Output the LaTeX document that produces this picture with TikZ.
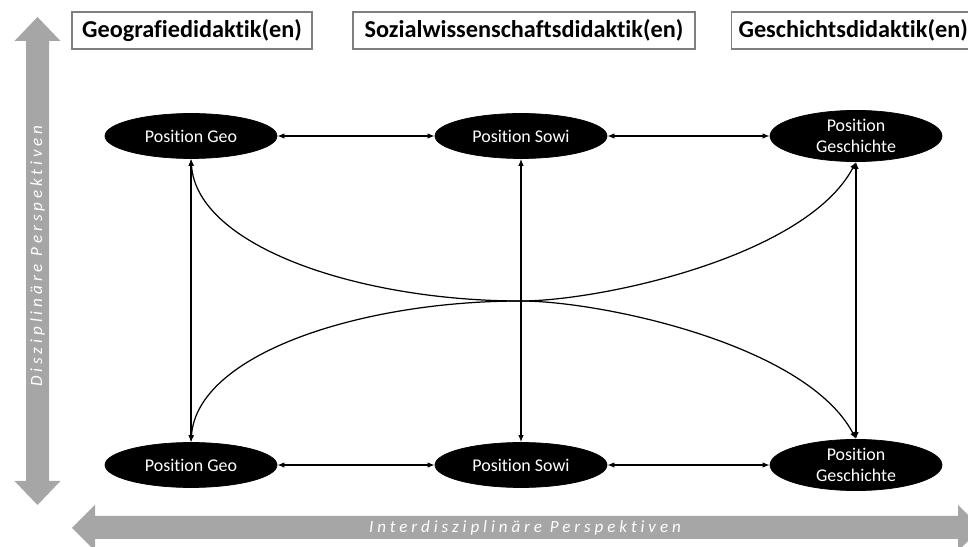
\documentclass[tikz,border=0pt]{standalone}
\usepackage{fontspec}
\setmainfont{Carlito}[Ligatures=NoCommon]
\usetikzlibrary{shapes.geometric, arrows.meta, positioning}
\definecolor{PerspGray}{HTML}{A6A6A6}
\definecolor{FrameGray}{HTML}{7F7F7F}
\tikzset{
    position/.style={
        ellipse,
        draw=black,
        fill=black,
        minimum width=3.44cm,
        minimum height=0.9cm,
        text=white,
        font=\fontsize{10.2}{11.5}\selectfont,
        align=center,
        inner sep=1pt
    },
    discipline/.style={
        draw=FrameGray,
        line width=0.6pt,
        fill=white,
        minimum height=0.74cm,
        text=black,
        font=\fontsize{13.8}{15}\selectfont\bfseries,
        inner xsep=4pt
    },
    link/.style={
        {Latex[length=1.4mm,width=1.1mm]}-{Latex[length=1.4mm,width=1.1mm]},
        line width=0.7pt,
        black
    },
    persptext/.style={
        text=white,
        font=\fontsize{9.7}{11}\selectfont\itshape\addfontfeatures{LetterSpace=23}
    }
}

\begin{document}
\begin{tikzpicture}
        \useasboundingbox (0,0) rectangle (19.36,10.94);
        \clip (0,0) rectangle (19.36,10.94);

        % Perspective arrows
        \fill[PerspGray] (0.75,10.6) -- (1.21,10.12) -- (0.98,10.12) -- (0.98,1.32) -- (1.21,1.32) -- (0.75,0.84)
            -- (0.29,1.32) -- (0.52,1.32) -- (0.52,10.12) -- (0.29,10.12) -- cycle;
        \fill[PerspGray] (1.44,0.38) -- (1.9,0.84) -- (1.9,0.62) -- (19.16,0.62) -- (19.16,0.84) -- (19.62,0.38)
            -- (19.16,-0.08) -- (19.16,0.16) -- (1.9,0.16) -- (1.9,-0.08) -- cycle;
        \node[persptext, rotate=90] (disz) at (0.75,5.82) {Disziplinäre Perspektiven};
        \node[persptext] (inter) at (10.5,0.38) {Interdisziplinäre Perspektiven};

        % Disciplines
        \node[discipline, minimum width=4.8cm] (geotitle) at (3.84,10.33) {Geografiedidaktik(en)};
        \node[discipline, minimum width=6.84cm] (sowititle) at (10.48,10.33) {Sozialwissenschaftsdidaktik(en)};
        \node[discipline, anchor=west, text width=5.2cm, align=left] (geschtitle) at (14.62,10.33) {Geschichtsdidaktik(en)};

        % Positions
        \node[position] (geoT) at (3.82,8.22) {Position Geo};
        \node[position] (sowiT) at (10.42,8.22) {Position Sowi};
        \node[position] (geschT) at (17.12,8.22) {Position\\Geschichte};
        \node[position] (geoB) at (3.82,1.64) {Position Geo};
        \node[position] (sowiB) at (10.42,1.64) {Position Sowi};
        \node[position] (geschB) at (17.12,1.64) {Position\\Geschichte};
        \coordinate (cross) at (10.42,4.92);

        % Links
        \draw[link] (geoT) -- (sowiT);
        \draw[link] (sowiT) -- (geschT);
        \draw[link] (geoB) -- (sowiB);
        \draw[link] (sowiB) -- (geschB);
        \draw[link] (geoT) -- (geoB);
        \draw[link] (sowiT) -- (sowiB);
        \draw[link] (geschT) -- (geschB);
        \draw[link] (geoT.south) .. controls +(0.12,-1.76) and +(-3.22,0) .. (cross)
            .. controls +(1.58,0) and +(-1.0,1.9) .. (geschB.north);
        \draw[link] (geoB.north) .. controls +(0.12,1.76) and +(-3.22,0) .. (cross)
            .. controls +(1.58,0) and +(-1.0,-1.9) .. (geschT.south);
    \end{tikzpicture}
\end{document}
